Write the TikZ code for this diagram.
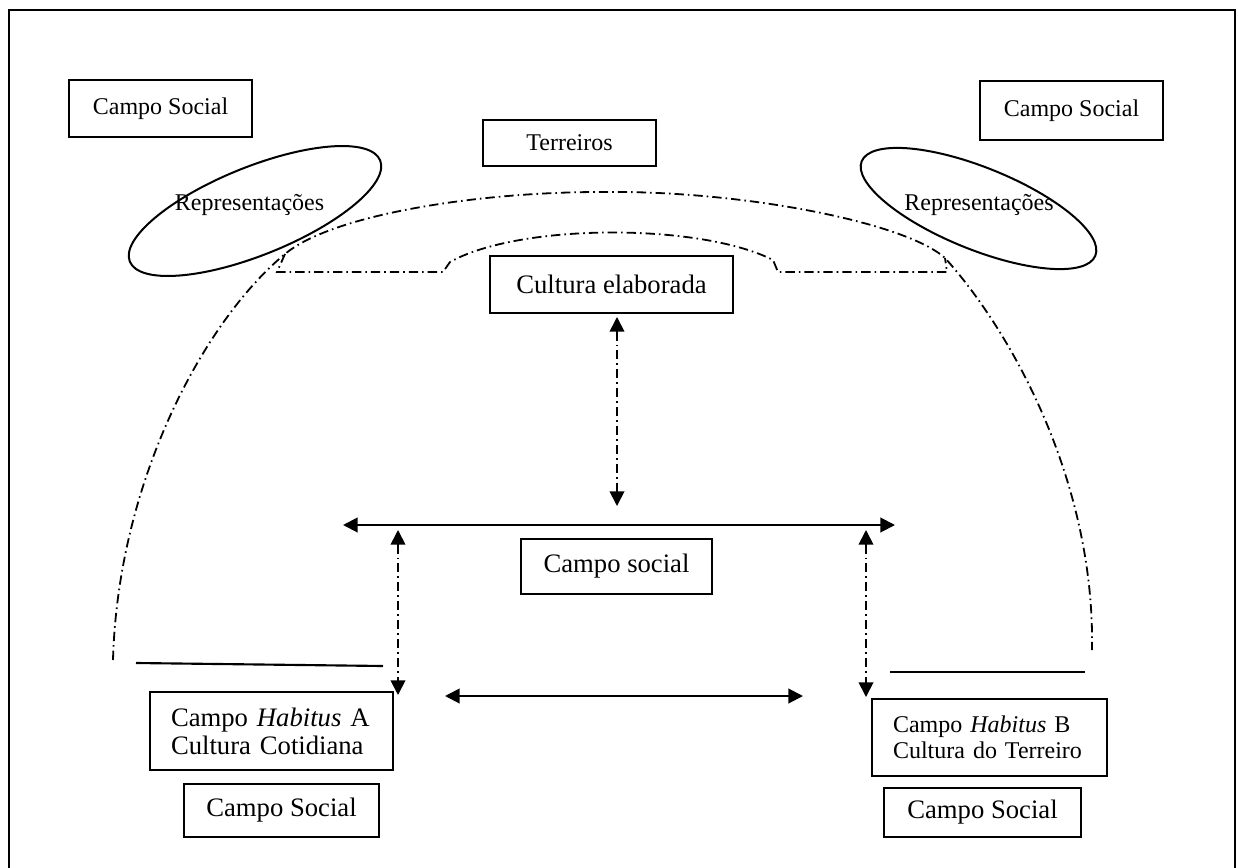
\documentclass[tikz,border=0pt]{standalone}
\usepackage{fontspec}
\setmainfont{Liberation Serif}
\usetikzlibrary{arrows.meta,shapes.geometric}
\def\PX{0.75pt}
\begin{document}
\begin{tikzpicture}[x=0.75pt,y=-0.75pt,
  box/.style={draw, line width=1.5pt, rectangle, inner sep=0pt, align=center},
  dd/.style={line width=1.35pt, dash pattern=on 7pt off 3pt on 1.2pt off 3pt},
  arr/.style={{Triangle[length=11pt,width=11pt]}-{Triangle[length=11pt,width=11pt]}, line width=1.5pt},
  big/.style={font=\fontsize{20pt}{21pt}\selectfont},
  small/.style={font=\fontsize{18pt}{19.5pt}\selectfont},
  oval/.style={draw, ellipse, line width=1.5pt, inner sep=0pt},
  solidline/.style={line width=1.6pt}]
\useasboundingbox (0,0) rectangle (1238,867);
\clip (0,0) rectangle (1238,867);
% frame
\draw[line width=1.6pt] (9,880) -- (9,10) -- (1235,10) -- (1235,880);

% top boxes
\node[box, small, minimum width=183*\PX, minimum height=57*\PX] (cstl) at (160.5,108.5) {Campo Social};
\node[box, small, minimum width=173*\PX, minimum height=46*\PX] (ter) at (569.5,143) {Terreiros};
\node[box, small, minimum width=183*\PX, minimum height=59*\PX] (cstr) at (1071.5,110.5) {Campo Social};

% ellipses
\node[oval, minimum width=270*\PX, minimum height=88*\PX, rotate=22] (ell) at (255,211) {};
\node[small] (repl) at (249.5,205) {Representações};
\node[oval, minimum width=252*\PX, minimum height=82*\PX, rotate=-22] (elr) at (978.5,208.5) {};
\node[small] (repr) at (979,205) {Representações};

% dash-dot outer arc
\coordinate (jl) at (285,254);
\coordinate (jr) at (945,258);
\draw[dd] (113,660) .. controls (118,480) and (205,320) .. (jl)
  .. controls (333,214) and (480,192) .. (600,192)
  .. controls (740,190) and (905,222) .. (jr)
  .. controls (1010,330) and (1095,480) .. (1092,650);
% inner dash-dot shape
\draw[dd] (jl) -- (277,272) -- (443,272) -- (450,262)
  .. controls (520,223) and (700,223) .. (773,260) -- (778,272) -- (947,272) -- (jr);

% middle boxes
\node[box, big, minimum width=243*\PX, minimum height=57*\PX] (ce) at (611.5,284.5) {Cultura elaborada};
\node[box, big, minimum width=191*\PX, minimum height=55*\PX] (csm) at (616.5,566.5) {Campo social};

% bottom boxes
\node[box, big, minimum width=243*\PX, minimum height=78*\PX, text width=201*\PX, align=left] (ha) at (271.5,731) {Campo \textit{Habitus} A\\Cultura Cotidiana};
\node[box, big, minimum width=195*\PX, minimum height=53*\PX] (csbl) at (281.5,810.5) {Campo Social};
\node[box, small, minimum width=235*\PX, minimum height=77*\PX, text width=193*\PX, align=left] (hb) at (989.5,737.5) {Campo \textit{Habitus} B\\Cultura do Terreiro};
\node[box, big, minimum width=197*\PX, minimum height=49*\PX] (csbr) at (982.5,812.5) {Campo Social};

% connectors
\coordinate (vt) at (617,317);
\coordinate (vb) at (617,506);
\coordinate (hl) at (343,525);
\coordinate (hr) at (895,525);
\coordinate (lt) at (398,530);
\coordinate (lb) at (398,695);
\coordinate (rt) at (866,530);
\coordinate (rb) at (866,697);
\coordinate (bl) at (445,696);
\coordinate (br) at (803,696);
\draw[arr, dd] (vt) -- (vb);
\draw[arr] (hl) -- (hr);
\draw[arr, dd] (lt) -- (lb);
\draw[arr, dd] (rt) -- (rb);
\draw[arr] (bl) -- (br);

% solid lines
\coordinate (sl1) at (136,663);
\coordinate (sl2) at (383,666);
\coordinate (sr1) at (890,672);
\coordinate (sr2) at (1085,672);
\draw[solidline] (sl1) -- (sl2);
\draw[solidline] (sr1) -- (sr2);
\end{tikzpicture}
\end{document}
